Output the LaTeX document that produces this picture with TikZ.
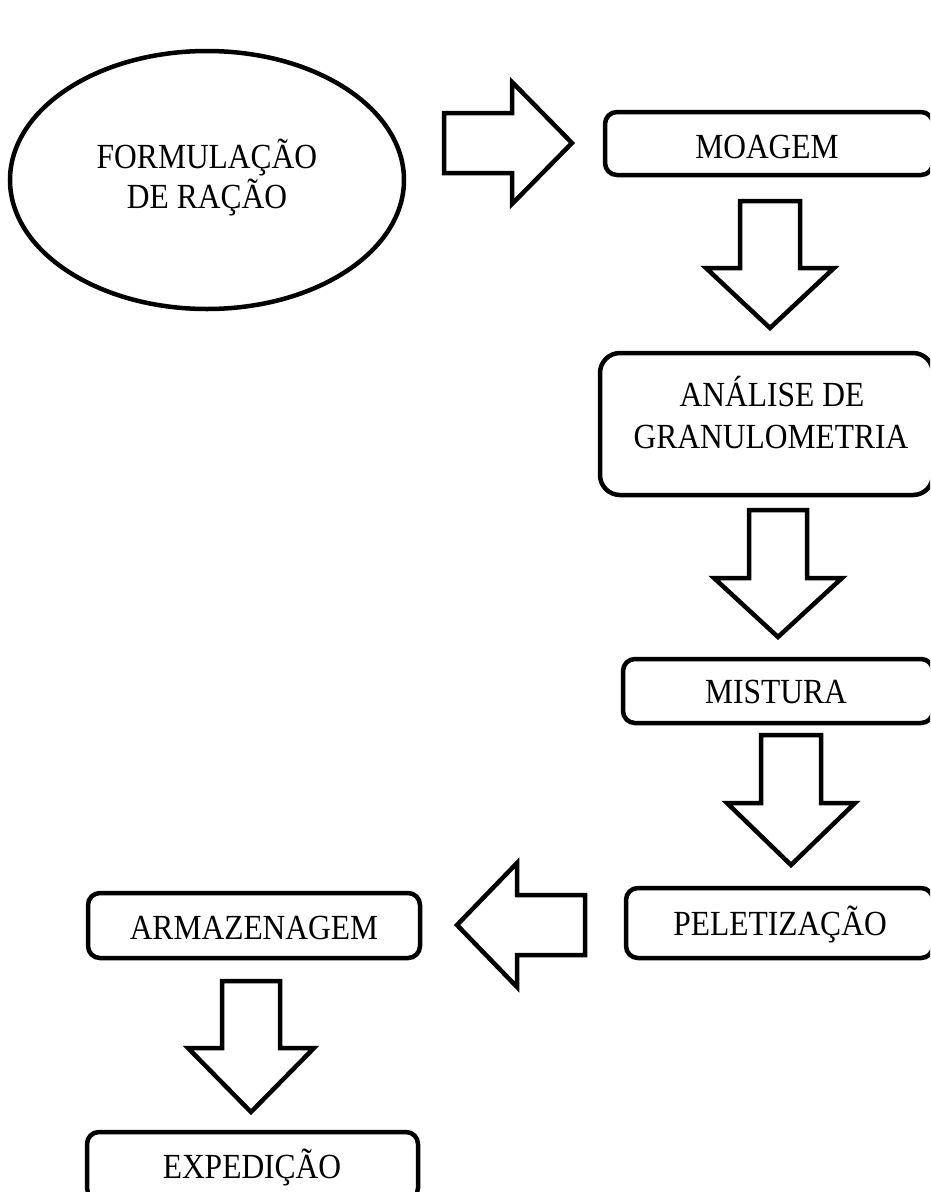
\documentclass[tikz,border=0pt]{standalone}
\usepackage{graphicx}
\usepackage{fontspec}
\setmainfont{Liberation Serif}
\usetikzlibrary{shapes.geometric}
\newcommand\tallword[1]{\scalebox{1}[1.12]{#1}}
\tikzset{
  stepbox/.style={draw, line width=4.5pt, rounded corners=12pt, inner sep=0pt},
  txt/.style={font=\fontsize{31.5}{37}\selectfont, inner sep=0pt, anchor=base},
  blockarrow/.style={draw, line width=4.5pt, fill=white, line join=miter},
}
\begin{document}
\begin{tikzpicture}[x=1pt,y=-1pt]
\useasboundingbox (0,0) rectangle (930,1192);
\clip (0,0) rectangle (930,1192);
% start ellipse
\node[draw, ellipse, line width=4.5pt, minimum width=394pt, minimum height=258pt, inner sep=0pt] (form) at (207,180) {};
\node[txt] (formT1) at (207,168) {\tallword{FORMULAÇÃO}};
\node[txt] (formT2) at (207,208) {\tallword{DE RAÇÃO}};
% boxes
\node[stepbox, minimum width=328pt, minimum height=63pt] (moag) at (769,143.5) {};
\node[txt] (moagT) at (767,158) {\tallword{MOAGEM}};
\node[stepbox, rounded corners=20pt, minimum width=333pt, minimum height=142pt] (anal) at (766.5,424) {};
\node[txt] (analT1) at (772,406) {\tallword{ANÁLISE DE}};
\node[txt] (analT2) at (771,448) {\tallword{GRANULOMETRIA}};
\node[stepbox, minimum width=310pt, minimum height=64pt] (mist) at (778,691) {};
\node[txt] (mistT) at (776,703) {\tallword{MISTURA}};
\node[stepbox, minimum width=307pt, minimum height=70pt] (pel) at (779.5,923) {};
\node[txt] (pelT) at (780,935) {\tallword{PELETIZAÇÃO}};
\node[stepbox, minimum width=332pt, minimum height=65pt] (arm) at (254,925.5) {};
\node[txt] (armT) at (254,939) {\tallword{ARMAZENAGEM}};
\node[stepbox, minimum width=331pt, minimum height=68pt] (exp) at (252.5,1166) {};
\node[txt] (expT) at (252,1178) {\tallword{EXPEDIÇÃO}};
% block arrows
\draw[blockarrow] (444,113) -- (512,113) -- (512,82) -- (572,143) -- (512,204) -- (512,173) -- (444,173) -- cycle;
\draw[blockarrow] (740,201) -- (800,201) -- (800,268) -- (834,268) -- (770,328) -- (706,268) -- (740,268) -- cycle;
\draw[blockarrow] (749,510) -- (807,510) -- (807,578) -- (842,578) -- (778,637) -- (714,578) -- (749,578) -- cycle;
\draw[blockarrow] (761,735) -- (821,735) -- (821,803) -- (855,803) -- (791,865) -- (727,803) -- (761,803) -- cycle;
\draw[blockarrow] (585,895) -- (517,895) -- (517,863) -- (457,925) -- (517,987) -- (517,955) -- (585,955) -- cycle;
\draw[blockarrow] (222,981) -- (280,981) -- (280,1048) -- (314,1048) -- (251,1112) -- (188,1048) -- (222,1048) -- cycle;
\end{tikzpicture}
\end{document}
